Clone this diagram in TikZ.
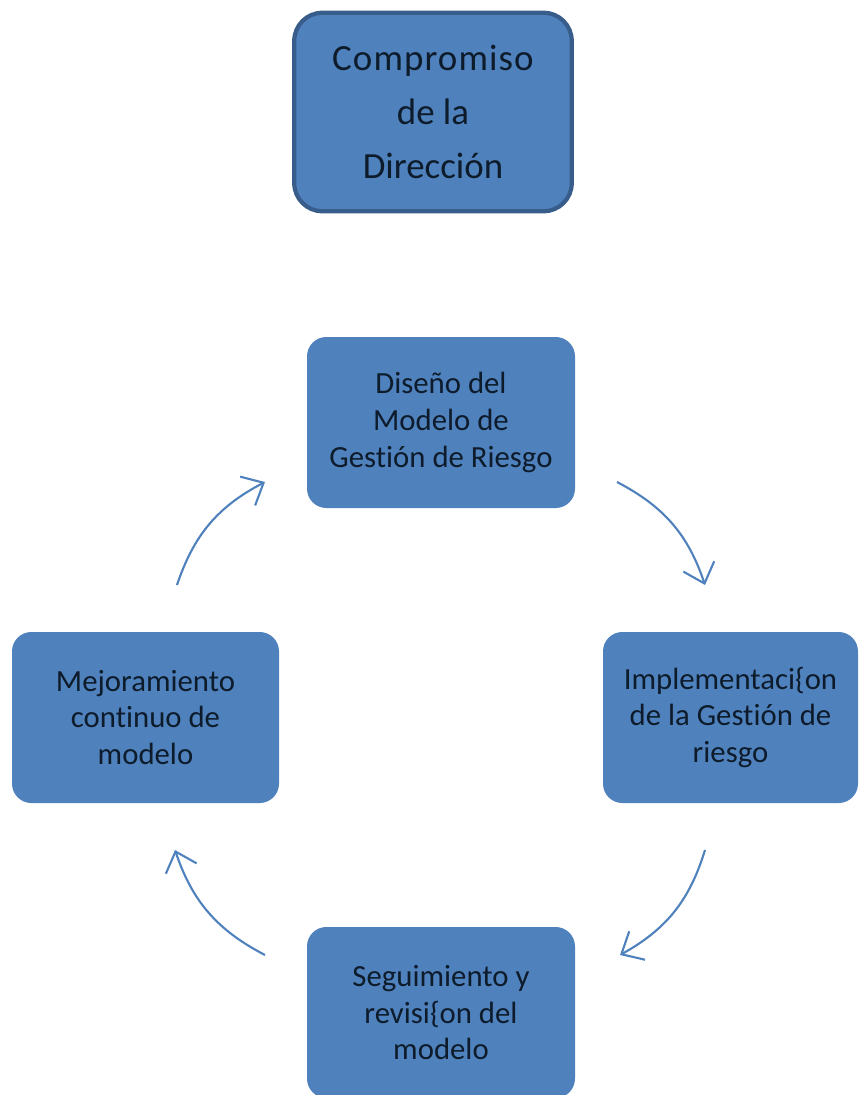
\documentclass[tikz,border=0pt]{standalone}
\usepackage{fontspec}
\setmainfont[Ligatures=NoCommon]{Carlito}
\usetikzlibrary{arrows.meta}
\definecolor{boxblue}{HTML}{4F81BD}
\definecolor{edgeblue}{HTML}{385D8A}
\definecolor{txtdark}{HTML}{0D1B2A}
\tikzset{
    stage/.style={fill=boxblue, rounded corners=11pt, text=txtdark, align=center,
        font=\fontsize{17.5}{21}\selectfont, inner sep=0pt},
    cycarrow/.style={boxblue, line width=1.2pt, -{Straight Barb[length=3.6mm, width=6.5mm]}}
}
\begin{document}
\begin{tikzpicture}
\clip (0,0) rectangle (17.2,-21.9);
\coordinate (T) at (8.66,-2.24);
\coordinate (D) at (8.82,-8.45);
\coordinate (I) at (14.61,-14.35);
\coordinate (M) at (2.91,-14.35);
\coordinate (S) at (8.82,-20.25);
\node[stage, draw=edgeblue, line width=2.4pt, rounded corners=16pt,
    minimum width=5.55cm, minimum height=3.97cm,
    font=\fontsize{21}{30.7}\selectfont] (compromiso) at (T)
    {\addfontfeature{LetterSpace=3}Compromiso\\de la\\Dirección};
\node[stage, minimum width=5.36cm, minimum height=3.42cm] (diseno) at (D)
    {Diseño del\\Modelo de\\Gestión de Riesgo};
\node[stage, minimum width=5.1cm, minimum height=3.42cm] (implementacion) at (I)
    {Implementaci\{on\\de la Gestión de\\riesgo};
\node[stage, minimum width=5.34cm, minimum height=3.42cm] (mejoramiento) at (M)
    {Mejoramiento\\continuo de\\modelo};
\node[stage, minimum width=5.36cm, minimum height=3.42cm, text depth=0pt] (seguimiento) at (S)
    {Seguimiento y\\revisi\{on del\\modelo};
\coordinate (a1) at (12.34,-9.64);
\coordinate (b1) at (14.10,-11.70);
\coordinate (a2) at (14.10,-17.00);
\coordinate (b2) at (12.40,-19.10);
\coordinate (a3) at (5.30,-19.10);
\coordinate (b3) at (3.50,-17.00);
\coordinate (a4) at (3.54,-11.70);
\coordinate (b4) at (5.30,-9.64);
\draw[cycarrow] (a1) to[bend left=22] (b1);
\draw[cycarrow] (a2) to[bend left=22] (b2);
\draw[cycarrow] (a3) to[bend left=22] (b3);
\draw[cycarrow] (a4) to[bend left=22] (b4);
\end{tikzpicture}
\end{document}
